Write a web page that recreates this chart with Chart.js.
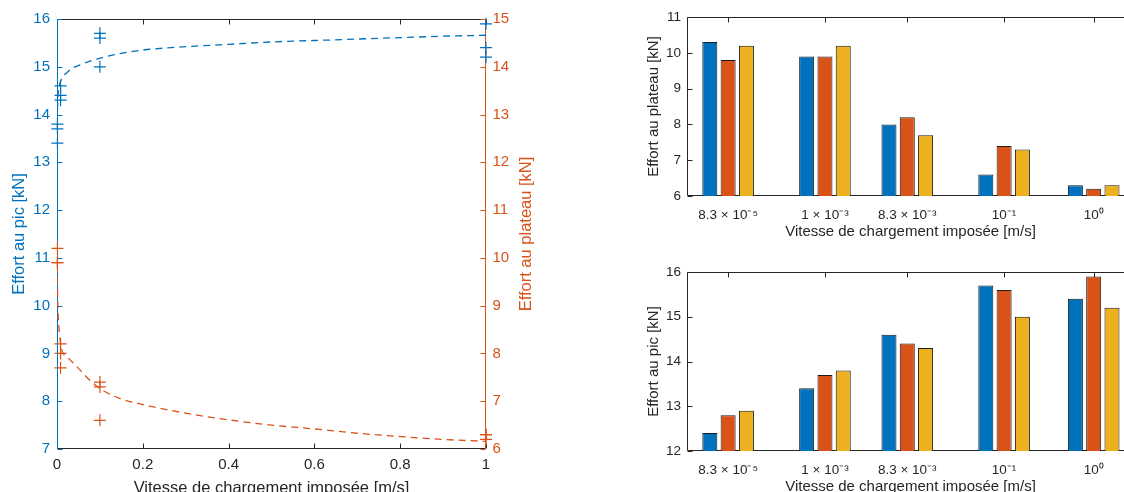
<!DOCTYPE html>
<html>
<head>
<meta charset="utf-8">
<script src="https://cdn.jsdelivr.net/npm/chart.js@4.4.1/dist/chart.umd.min.js"></script>
<style>
  html, body { margin: 0; padding: 0; background: #fff; overflow: hidden; width: 1124px; height: 492px; position: relative; }
  canvas { position: absolute; }
  #scatter { left: 0; top: 0; }
  #plateau { left: 600px; top: 0; }
  #pic { left: 600px; top: 250px; }
</style>
</head>
<body>
<canvas id="scatter" width="570" height="500"></canvas>
<canvas id="plateau" width="540" height="245"></canvas>
<canvas id="pic" width="540" height="250"></canvas>
<script>
// vitesses de chargement imposées [m/s]
const vitesses = [8.3e-5, 1e-3, 8.3e-3, 1e-1, 1];
const vitesseLabels = ['8.3 × 10⁻⁵', '1 × 10⁻³', '8.3 × 10⁻³', '10⁻¹', '10⁰'];

// effort au plateau [kN] (3 essais)
const plateauEssai1 = [10.3, 9.9, 8.0, 6.6, 6.3];
const plateauEssai2 = [9.8, 9.9, 8.2, 7.4, 6.2];
const plateauEssai3 = [10.2, 10.2, 7.7, 7.3, 6.3];

// effort au pic [kN] (3 essais)
const picEssai1 = [12.4, 13.4, 14.6, 15.7, 15.4];
const picEssai2 = [12.8, 13.7, 14.4, 15.6, 15.9];
const picEssai3 = [12.9, 13.8, 14.3, 15.0, 15.2];

// courbes de tendance
const fitX = [0.00008, 0.0005, 0.002, 0.006, 0.012, 0.022, 0.038, 0.054, 0.081, 0.108, 0.143, 0.2, 0.3, 0.4, 0.5, 0.6, 0.7, 0.8, 0.9, 1];
const fitPic = [12.6, 13.6, 14.3, 14.62, 14.77, 14.87, 14.98, 15.04, 15.13, 15.2, 15.27, 15.35, 15.42, 15.47, 15.52, 15.55, 15.58, 15.61, 15.64, 15.66];
const fitPlateau = [10.35, 9.76, 9.0, 8.4, 8.05, 7.94, 7.8, 7.65, 7.4, 7.22, 7.07, 6.93, 6.75, 6.61, 6.5, 6.42, 6.33, 6.26, 6.2, 6.16];

const BLUE = '#0072BD';
const ORANGE = '#D95319';
const YELLOW = '#EDB120';
const DARK = '#262626';
const FONT = "'Liberation Sans', Arial, Helvetica, sans-serif";

Chart.defaults.font.family = FONT;
Chart.defaults.animation = false;

// box + inward ticks, matlab style
const axesBox = {
    id: 'axesBox',
    beforeDatasetsDraw(chart) {
        const { ctx, chartArea: a, scales } = chart;
        const L = Math.round(a.left) + 0.5, R = Math.round(a.right) - 0.5;
        const T = Math.round(a.top) + 0.5, B = Math.round(a.bottom) - 0.5;
        const tl = 5;
        const seg = (c, x1, y1, x2, y2) => {
            ctx.strokeStyle = c;
            ctx.beginPath();
            ctx.moveTo(x1, y1);
            ctx.lineTo(x2, y2);
            ctx.stroke();
        };
        ctx.save();
        ctx.lineWidth = 1;
        const x = scales.x;
        x.ticks.forEach(t => {
            const p = Math.round(x.getPixelForValue(t.value)) + 0.5;
            seg(DARK, p, B, p, B - tl);
            seg(DARK, p, T, p, T + tl);
        });
        seg(DARK, L, B, R, B);
        seg(DARK, L, T, R, T);
        let rightColor = DARK;
        Object.values(scales).forEach(s => {
            if (s.axis !== 'y') return;
            const c = s.options.ticks.color;
            const left = s.position === 'left';
            s.ticks.forEach(t => {
                const p = Math.round(s.getPixelForValue(t.value)) + 0.5;
                if (left) seg(c, L, p, L + tl, p);
                else seg(c, R, p, R - tl, p);
            });
            if (left) seg(c, L, T, L, B);
            else rightColor = c;
        });
        seg(rightColor, R, T, R, B);
        ctx.restore();
    }
};

// right y title reads bottom to top like the left one
const rightTitle = {
    id: 'rightTitle',
    afterDraw(chart) {
        const { ctx, chartArea: a } = chart;
        ctx.save();
        ctx.translate(a.right + 40, (a.top + a.bottom) / 2);
        ctx.rotate(-Math.PI / 2);
        ctx.font = '16.5px ' + FONT;
        ctx.fillStyle = ORANGE;
        ctx.textAlign = 'center';
        ctx.textBaseline = 'middle';
        ctx.fillText('Effort au plateau [kN]', 0, 0);
        ctx.restore();
    }
};

const noGrid = { display: false, drawTicks: false, tickLength: 0 };

// scatter with both efforts (first speed not plotted)
function scatterPoints(series) {
    const pts = [];
    series.forEach(s => s.forEach((y, i) => {
        if (i > 0) pts.push({ x: vitesses[i], y: y });
    }));
    return pts;
}

new Chart(document.getElementById('scatter'), {
    type: 'scatter',
    data: {
        datasets: [
            {
                data: scatterPoints([picEssai1, picEssai2, picEssai3]),
                yAxisID: 'y',
                pointStyle: 'cross', pointRadius: 6,
                borderColor: BLUE, backgroundColor: BLUE, borderWidth: 1.2,
                clip: false
            },
            {
                data: scatterPoints([plateauEssai1, plateauEssai2, plateauEssai3]),
                yAxisID: 'y1',
                pointStyle: 'cross', pointRadius: 6,
                borderColor: ORANGE, backgroundColor: ORANGE, borderWidth: 1.2,
                clip: false
            },
            {
                data: fitX.map((x, i) => ({ x: x, y: fitPic[i] })),
                yAxisID: 'y',
                showLine: true, pointRadius: 0,
                borderColor: BLUE, borderWidth: 1.3, borderDash: [7, 5],
                cubicInterpolationMode: 'monotone'
            },
            {
                data: fitX.map((x, i) => ({ x: x, y: fitPlateau[i] })),
                yAxisID: 'y1',
                showLine: true, pointRadius: 0,
                borderColor: ORANGE, borderWidth: 1.3, borderDash: [7, 5],
                cubicInterpolationMode: 'monotone'
            }
        ]
    },
    options: {
        responsive: false,
        events: [],
        layout: { padding: { top: 19, left: 0, right: 0, bottom: 0 } },
        plugins: { legend: { display: false }, tooltip: { enabled: false } },
        scales: {
            x: {
                type: 'linear', min: 0, max: 1,
                ticks: { stepSize: 0.2, color: DARK, font: { size: 15 }, padding: 7, maxRotation: 0,
                    callback: v => String(Math.round(v * 10) / 10) },
                grid: noGrid, border: { display: false },
                title: { display: true, text: 'Vitesse de chargement imposée [m/s]', color: DARK, font: { size: 16.5 }, padding: { top: 0, bottom: 2 } },
                afterFit: s => { s.height = 51; }
            },
            y: {
                position: 'left', min: 7, max: 16,
                ticks: { stepSize: 1, color: BLUE, font: { size: 15 }, padding: 7 },
                grid: noGrid, border: { display: false },
                title: { display: true, text: 'Effort au pic [kN]', color: BLUE, font: { size: 16.5 }, padding: { top: 9.4, bottom: 0 } },
                afterFit: s => { s.width = 57; }
            },
            y1: {
                position: 'right', min: 6, max: 15,
                ticks: { stepSize: 1, color: ORANGE, font: { size: 15 }, padding: 6.5 },
                grid: noGrid, border: { display: false },
                afterFit: s => { s.width = 84; }
            }
        }
    },
    plugins: [axesBox, rightTitle]
});

// grouped bars placed at log10 of the speed
function barChart(id, series, yMin, yMax, yTitle, padTop) {
    const colors = [BLUE, ORANGE, YELLOW];
    return new Chart(document.getElementById(id), {
        type: 'bar',
        data: {
            datasets: series.map((s, k) => ({
                data: s.map((y, i) => ({ x: Math.log10(vitesses[i]), y: y })),
                backgroundColor: colors[k],
                borderColor: '#1a1a1a',
                borderWidth: 1,
                categoryPercentage: 0.667,
                barPercentage: 0.82
            }))
        },
        options: {
            responsive: false,
            events: [],
            layout: { padding: { top: padTop, left: 0, right: 6, bottom: 0 } },
            plugins: { legend: { display: false }, tooltip: { enabled: false } },
            scales: {
                x: {
                    type: 'linear', min: -4.54, max: 0.45, offset: false,
                    afterBuildTicks: s => { s.ticks = vitesses.map(v => ({ value: Math.log10(v) })); },
                    ticks: { color: DARK, font: { size: 13.5 }, padding: 11, maxRotation: 0, autoSkip: false,
                        callback: (v, i) => vitesseLabels[i] },
                    grid: noGrid, border: { display: false },
                    title: { display: true, text: 'Vitesse de chargement imposée [m/s]', color: DARK, font: { size: 15 }, padding: { top: 0, bottom: 3.8 } },
                    afterFit: s => { s.height = 49; }
                },
                y: {
                    min: yMin, max: yMax,
                    ticks: { stepSize: 1, color: DARK, font: { size: 13.5 }, padding: 6 },
                    grid: noGrid, border: { display: false },
                    title: { display: true, text: yTitle, color: DARK, font: { size: 15 }, padding: { top: 45, bottom: 0 } },
                    afterFit: s => { s.width = 87; }
                }
            }
        },
        plugins: [axesBox]
    });
}

barChart('plateau', [plateauEssai1, plateauEssai2, plateauEssai3], 6, 11, 'Effort au plateau [kN]', 17);
barChart('pic', [picEssai1, picEssai2, picEssai3], 12, 16, 'Effort au pic [kN]', 22);
</script>
</body>
</html>
